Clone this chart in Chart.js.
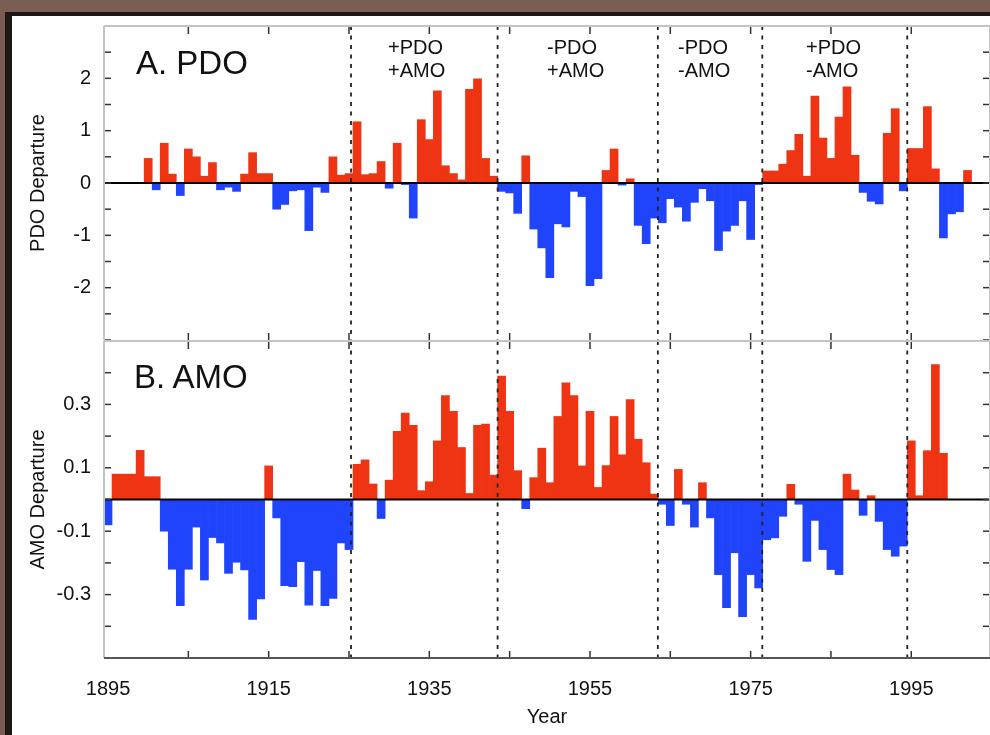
<!DOCTYPE html>
<html>
<head>
<meta charset="utf-8">
<script src="https://cdn.jsdelivr.net/npm/chart.js@4.4.1/dist/chart.umd.min.js"></script>
<style>
  html, body { margin: 0; padding: 0; width: 990px; height: 735px; overflow: hidden; background: #7a5e54; }
  #frame { position: absolute; left: 5px; top: 12px; width: 985px; height: 723px; background: #1e1814; }
  #paper { position: absolute; left: 12px; top: 16px; width: 978px; height: 719px; background: #fff; }
  canvas { position: absolute; left: 0; }
  #cA { top: 0; }
  #cB { top: 330px; }
  .lbl { position: absolute; font-family: "Liberation Sans", Arial, sans-serif; color: #111; white-space: pre; }
  .panel { font-size: 33px; line-height: 33px; }
  .regime { font-size: 20px; line-height: 23px; top: 36px; }
</style>
</head>
<body>
<div id="frame"></div>
<div id="paper"></div>
<canvas id="cA" width="990" height="342"></canvas>
<canvas id="cB" width="990" height="405"></canvas>
<div class="lbl panel" style="left:136px;top:46px">A. PDO</div>
<div class="lbl panel" style="left:134px;top:360px">B. AMO</div>
<div class="lbl regime" style="left:388px">+PDO
+AMO</div>
<div class="lbl regime" style="left:547px">-PDO
+AMO</div>
<div class="lbl regime" style="left:678px">-PDO
-AMO</div>
<div class="lbl regime" style="left:806px">+PDO
-AMO</div>
<script>
// ── DATA ─────────────────────────────────────
const PDO_START = 1900;
const PDO = [
  0.47, -0.13, 0.76, 0.17, -0.24, 0.65, 0.50, 0.13, 0.39, -0.13,
  -0.08, -0.16, 0.17, 0.58, 0.18, 0.18, -0.50, -0.41, -0.15, -0.13,
  -0.91, -0.08, -0.18, 0.50, 0.15, 0.18, 1.17, 0.16, 0.18, 0.41,
  -0.10, 0.76, -0.03, -0.67, 1.21, 0.83, 1.76, 0.33, 0.18, 0.06,
  1.79, 1.99, 0.47, 0.13, -0.16, -0.19, -0.58, 0.52, -0.88, -1.24,
  -1.81, -0.78, -0.84, -0.16, -0.26, -1.96, -1.83, 0.24, 0.65, -0.04,
  0.08, -0.81, -1.16, -0.67, -0.76, -0.30, -0.46, -0.73, -0.37, -0.11,
  -0.34, -1.29, -0.92, -0.81, -0.34, -1.08, -0.03, 0.23, 0.23, 0.36,
  0.62, 0.93, 0.13, 1.66, 0.86, 0.47, 1.26, 1.84, 0.53, -0.18,
  -0.35, -0.40, 0.95, 1.42, -0.15, 0.66, 0.66, 1.46, 0.27, -1.05,
  -0.59, -0.55, 0.24
];

const AMO_START = 1895;
const AMO = [
  -0.08, 0.08, 0.08, 0.08, 0.155,
  0.072, 0.072, -0.10, -0.22, -0.335, -0.22, -0.087, -0.254, -0.12, -0.137,
  -0.233, -0.198, -0.222, -0.378, -0.314, 0.106, -0.058, -0.272, -0.275, -0.196,
  -0.333, -0.224, -0.335, -0.312, -0.137, -0.158, 0.111, 0.125, 0.049, -0.06,
  0.061, 0.215, 0.273, 0.234, 0.028, 0.056, 0.185, 0.328, 0.278, 0.164,
  0.019, 0.234, 0.238, 0.077, 0.389, 0.278, 0.091, -0.029, 0.069, 0.162,
  0.053, 0.262, 0.368, 0.328, 0.106, 0.278, 0.038, 0.107, 0.262, 0.141,
  0.315, 0.19, 0.116, 0.017, -0.015, -0.082, 0.095, -0.015, -0.087, 0.053,
  -0.058, -0.237, -0.341, -0.168, -0.37, -0.237, -0.279, -0.127, -0.121, -0.053,
  0.048, -0.015, -0.195, -0.066, -0.158, -0.221, -0.237, 0.08, 0.03, -0.05,
  0.012, -0.069, -0.158, -0.179, -0.147, 0.185, 0.012, 0.154, 0.426, 0.146
];

// regime boundaries (dashed lines), in years
const REGIME_LINES = [1925.25, 1943.5, 1963.45, 1976.45, 1994.5];
const X_TICKS = [1895, 1905, 1915, 1925, 1935, 1945, 1955, 1965, 1975, 1985, 1995];
const X_LABELS = [1895, 1915, 1935, 1955, 1975, 1995];
const X_MIN = 1894.5, X_MAX = 2004.8;

// ── STYLE ─────────────────────────────────────
const RED = '#ef3414', BLUE = '#1f44fb';
const FONT = '"Liberation Sans", Arial, Helvetica, sans-serif';
Chart.defaults.font.family = FONT;
Chart.defaults.color = '#111';
Chart.defaults.animation = false;

function barData(start, vals) {
  return {
    datasets: [{
      data: vals.map((v, i) => ({ x: start + i, y: v })),
      backgroundColor: vals.map(v => v >= 0 ? RED : BLUE),
      borderWidth: 0,
      barPercentage: 1.0,
      categoryPercentage: 1.0
    }]
  };
}

// no automatic label padding: the chart area is set by layout padding only
const noPad = s => { s.paddingTop = 0; s.paddingBottom = 0; s.paddingLeft = 0; s.paddingRight = 0; };

// frame, zero line, dashed regime lines and inward tick marks
const framePlugin = {
  id: 'frame',
  afterDatasetsDraw(chart, args, opts) {
    const { ctx: c, chartArea: a, scales: { x, y } } = chart;
    const line = (x1, y1, x2, y2) => { c.beginPath(); c.moveTo(x1, y1); c.lineTo(x2, y2); c.stroke(); };
    c.save();
    c.strokeStyle = '#000'; c.lineWidth = 2;
    const y0 = y.getPixelForValue(0);
    line(a.left, y0, a.right, y0);

    c.setLineDash([4, 5.5]); c.strokeStyle = '#222'; c.lineWidth = 1.8;
    REGIME_LINES.forEach(v => { const px = x.getPixelForValue(v); line(px, a.top, px, a.bottom); });
    c.setLineDash([]);

    c.strokeStyle = '#333'; c.lineWidth = 1.5;
    y.ticks.forEach(t => {
      const py = y.getPixelForValue(t.value);
      line(a.left, py, a.left + 7, py);
      line(a.right - 7, py, a.right, py);
    });
    X_TICKS.slice(1).forEach(v => {
      const px = x.getPixelForValue(v);
      line(px, a.top, px, a.top + 8);
      line(px, a.bottom - 7, px, a.bottom);
    });

    c.strokeStyle = '#c4c4c4'; c.lineWidth = 2;
    line(a.left, a.top, a.right, a.top);
    line(a.left, a.top, a.left, a.bottom);
    line(a.right, a.top, a.right, a.bottom);
    if (opts.bottom) {
      c.strokeStyle = '#555';
      line(a.left, a.bottom, a.right, a.bottom);
    }
    c.restore();
  }
};

function yAxis(min, max, step, title, fmt) {
  return {
    min, max,
    afterFit: s => { s.width = 104; noPad(s); },
    border: { display: false },
    grid: { display: false, drawTicks: false },
    ticks: { stepSize: step, padding: 13, font: { size: 20 }, color: '#111', autoSkip: false, callback: fmt },
    title: { display: true, text: title, font: { size: 20 }, color: '#111', padding: { top: 26 } }
  };
}

// ── A. PDO ─────────────────────────────────────
new Chart(document.getElementById('cA'), {
  type: 'bar',
  data: barData(PDO_START, PDO),
  options: {
    responsive: false,
    layout: { padding: { top: 26, right: 0, bottom: 2, left: 0 } },
    plugins: { legend: { display: false }, tooltip: { enabled: false }, frame: { bottom: false } },
    scales: {
      x: { type: 'linear', offset: false, min: X_MIN, max: X_MAX, display: false, afterFit: noPad },
      y: yAxis(-3, 3, 0.5, 'PDO Departure',
        v => (Number.isInteger(v) && Math.abs(v) <= 2) ? String(v) : '')
    }
  },
  plugins: [framePlugin]
});

// ── B. AMO ─────────────────────────────────────
new Chart(document.getElementById('cB'), {
  type: 'bar',
  data: barData(AMO_START, AMO),
  options: {
    responsive: false,
    layout: { padding: { top: 11, right: 0, bottom: 0, left: 0 } },
    plugins: { legend: { display: false }, tooltip: { enabled: false }, frame: { bottom: true } },
    scales: {
      x: {
        type: 'linear', offset: false, min: X_MIN, max: X_MAX,
        afterBuildTicks: s => { s.ticks = X_TICKS.map(v => ({ value: v })); },
        afterFit: s => { s.height = 77; noPad(s); },
        border: { display: false },
        grid: { display: false, drawTicks: false },
        ticks: {
          autoSkip: false, maxRotation: 0, padding: 19, font: { size: 20 }, color: '#111',
          callback: v => X_LABELS.includes(v) ? String(v) : ''
        },
        title: { display: true, text: 'Year', font: { size: 20 }, color: '#111', padding: { top: 0, bottom: 6 } }
      },
      y: yAxis(-0.5, 0.5, 0.1, 'AMO Departure', v => {
        const k = Math.round(v * 10);
        return (Math.abs(k) % 2 === 1 && Math.abs(k) <= 3) ? (k / 10).toFixed(1) : '';
      })
    }
  },
  plugins: [framePlugin]
});
</script>
</body>
</html>
